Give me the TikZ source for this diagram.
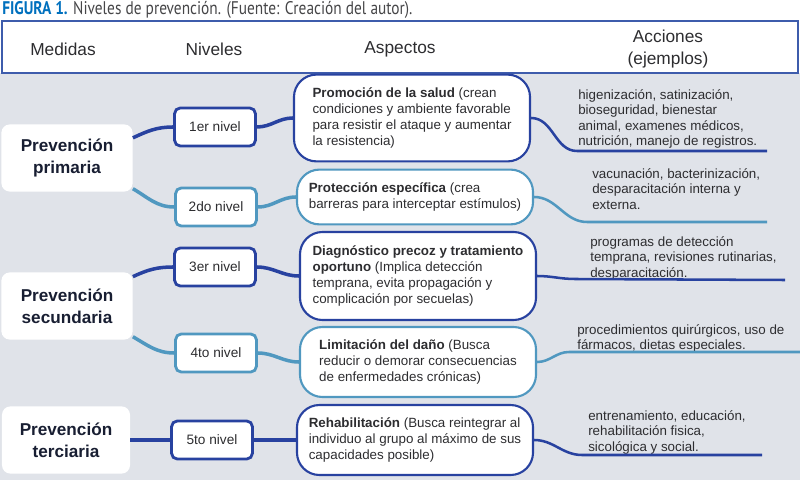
\documentclass[tikz,border=0pt]{standalone}
\usepackage{fontspec}
\setmainfont{Liberation Sans}
\newfontfamily\titlefont[FakeStretch=0.84]{PT Sans}
\usetikzlibrary{positioning}
\definecolor{deepblue}{RGB}{40,66,160}
\definecolor{seablue}{RGB}{80,152,192}
\definecolor{framecol}{RGB}{62,92,172}
\definecolor{paper}{RGB}{224,227,233}
\definecolor{txt}{RGB}{45,45,48}
\definecolor{ink}{RGB}{24,30,50}
\definecolor{figblue}{RGB}{0,112,190}
\definecolor{figgray}{RGB}{70,70,72}
\tikzset{
  medida/.style={fill=white,rounded corners=6pt,minimum width=3.28cm,minimum height=1.68cm,
    align=center,text=ink,font=\fontsize{12.2}{15.6}\selectfont\bfseries},
  nivel/.style={draw=#1,fill=white,line width=2pt,rounded corners=4pt,minimum width=2.02cm,
    minimum height=0.95cm,text=txt,font=\fontsize{9.7}{11}\selectfont},
  nivel/.default=deepblue,
  aspecto/.style={draw=#1,fill=white,line width=1.5pt,rounded corners=16pt,minimum width=5.9cm,
    align=left,text=txt,font=\fontsize{9.5}{11.3}\selectfont},
  aspecto/.default=deepblue,
  accion/.style={anchor=north west,inner sep=0pt,align=left,text=txt,font=\fontsize{9.5}{11.1}\selectfont},
  cabeza/.style={align=center,text=txt,font=\fontsize{12.3}{15.6}\selectfont},
  rama/.style={draw=#1,line width=2.5pt},
  rama/.default=deepblue,
  linea/.style={draw=#1,line width=1.8pt},
  linea/.default=deepblue,
}
\begin{document}
\begin{tikzpicture}[x=0.025cm,y=0.025cm]
\useasboundingbox (0,0) rectangle (800,480);
\fill[paper] (0,0) rectangle (800,407);

% titulo y cabecera
\node[anchor=base west,inner sep=0pt,font=\titlefont\fontsize{13}{15}\selectfont] (titulo) at (2,465)
  {\textcolor{figblue}{\bfseries FIGURA 1.} \textcolor{figgray}{Niveles de prevención. (Fuente: Creación del autor).}};
\draw[framecol,line width=1.6pt,fill=white] (2,407) rectangle (798,459);
\node[cabeza] (hmed) at (63,431) {Medidas};
\node[cabeza] (hniv) at (214,431) {Niveles};
\node[cabeza] (hasp) at (400,431) {Aspectos};
\node[cabeza] (hacc) at (668,431) {Acciones\\(ejemplos)};

% medidas
\node[medida] (prim) at (67,322) {Prevención\\primaria};
\node[medida] (sec) at (67,174) {Prevención\\secundaria};
\node[medida,minimum width=3.2cm] (ter) at (66,40) {Prevención\\terciaria};

% niveles
\node[nivel] (n1) at (215,353) {1er nivel};
\node[nivel=seablue] (n2) at (216,273) {2do nivel};
\node[nivel] (n3) at (215,213) {3er nivel};
\node[nivel=seablue] (n4) at (216,127) {4to nivel};
\node[nivel] (n5) at (212,40) {5to nivel};

% aspectos
\node[aspecto,minimum height=2.17cm] (a1) at (412,362)
  {\textbf{Promoción de la salud} (crean\\condiciones y ambiente favorable\\para resistir el ataque y aumentar\\la resistencia)};
\node[aspecto=seablue,minimum height=1.37cm] (a2) at (415,283)
  {\textbf{Protección específica} (crea\\barreras para interceptar estímulos)};
\node[aspecto,minimum height=2.2cm] (a3) at (418,204)
  {\textbf{Diagnóstico precoz y tratamiento}\\\textbf{oportuno} (Implica detección\\temprana, evita propagación y\\complicación por secuelas)};
\node[aspecto=seablue,minimum height=1.75cm] (a4) at (418,118)
  {\textbf{Limitación del daño} (Busca\\reducir o demorar consecuencias\\de enfermedades crónicas)};
\node[aspecto,minimum height=1.75cm] (a5) at (415,40)
  {\textbf{Rehabilitación} (Busca reintegrar al\\individuo al grupo al máximo de sus\\capacidades posible)};

% acciones
\node[accion] (t1) at (578,391) {higenización, satinización,\\bioseguridad, bienestar\\animal, examenes médicos,\\nutrición, manejo de registros.};
\node[accion] (t2) at (592,312) {vacunación, bacterinización,\\desparacitación interna y\\externa.};
\node[accion] (t3) at (590,244) {programas de detección\\temprana, revisiones rutinarias,\\desparacitación.};
\node[accion] (t4) at (577,156) {procedimientos quirúrgicos, uso de\\fármacos, dietas especiales.};
\node[accion] (t5) at (588,70) {entrenamiento, educación,\\rehabilitación fisica,\\sicológica y social.};

\coordinate (u1a) at (577,329); \coordinate (u1b) at (767,329);
\coordinate (u2a) at (587,258); \coordinate (u2b) at (767,258);
\coordinate (u3a) at (575,201); \coordinate (u3b) at (785,200);
\coordinate (u4a) at (569,128); \coordinate (u4b) at (800,128);
\coordinate (u5a) at (582,25);  \coordinate (u5b) at (762,25);

% ramas
\draw[rama] (prim.17) to[out=25,in=180] (n1.west);
\draw[rama=seablue] (prim.-25) to[out=-30,in=180] (n2.west);
\draw[rama] (sec.24) to[out=25,in=180] (n3.west);
\draw[rama=seablue] (sec.-25) to[out=-30,in=180] (n4.west);
\draw[rama] (ter.east) -- (n5.west);
\draw[rama] (n1.east) to[out=0,in=180] (a1.west);
\draw[rama=seablue] (n2.east) to[out=0,in=180] (a2.west);
\draw[rama] (n3.east) to[out=0,in=180] (a3.west);
\draw[rama=seablue] (n4.east) to[out=0,in=180] (a4.west);
\draw[rama] (n5.east) -- (a5.west);
\draw[linea] (a1.east) to[out=0,in=180] (u1a) -- (u1b);
\draw[linea=seablue] (a2.east) to[out=0,in=180] (u2a) -- (u2b);
\draw[linea] (a3.east) to[out=0,in=180] (u3a) -- (u3b);
\draw[linea=seablue] (a4.east) to[out=0,in=180] (u4a) -- (u4b);
\draw[linea] (a5.east) to[out=0,in=180] (u5a) -- (u5b);
\end{tikzpicture}
\end{document}
